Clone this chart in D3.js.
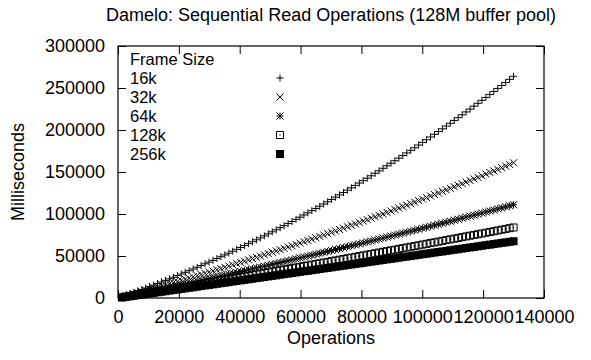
<!DOCTYPE html>
<html>
<head>
<meta charset="utf-8">
<script src="https://cdn.jsdelivr.net/npm/d3@7"></script>
<style>
  body { margin: 0; background: #fff; }
  svg text { font-family: Arial, "Liberation Sans", Helvetica, sans-serif; fill: #000; }
</style>
</head>
<body>
<svg id="chart" width="591" height="360"></svg>
<script>
// Data: operations (x) and milliseconds per frame size (y)
const ops = [
  1300,2600,3900,5200,6500,7800,9100,10400,11700,13000,
  14300,15600,16900,18200,19500,20800,22100,23400,24700,26000,
  27300,28600,29900,31200,32500,33800,35100,36400,37700,39000,
  40300,41600,42900,44200,45500,46800,48100,49400,50700,52000,
  53300,54600,55900,57200,58500,59800,61100,62400,63700,65000,
  66300,67600,68900,70200,71500,72800,74100,75400,76700,78000,
  79300,80600,81900,83200,84500,85800,87100,88400,89700,91000,
  92300,93600,94900,96200,97500,98800,100100,101400,102700,104000,
  105300,106600,107900,109200,110500,111800,113100,114400,115700,117000,
  118300,119600,120900,122200,123500,124800,126100,127400,128700,130000
];

const ms16k = [
  1600,3300,5000,6700,8400,10100,11900,13600,15400,17300,
  19100,21000,22800,24700,26700,28600,30600,32500,34500,36600,
  38600,40700,42700,44800,47000,49100,51300,53400,55700,57900,
  60100,62400,64700,67000,69300,71600,74000,76400,78800,81200,
  83700,86100,88600,91100,93700,96200,98800,101400,104000,106600,
  109200,111900,114600,117300,120000,122800,125600,128400,131200,134000,
  136900,139700,142600,145500,148500,151400,154400,157400,160400,163400,
  166500,169600,172700,175800,178900,182100,185200,188400,191700,194900,
  198200,201400,204700,208000,211400,214700,218100,221500,224900,228400,
  231800,235300,238800,242300,245900,249500,253000,256600,260300,263900
];

const ms32k = [
  1300,2500,3800,5100,6400,7700,9000,10300,11600,13000,
  14300,15600,17000,18300,19700,21100,22400,23800,25200,26600,
  28000,29400,30800,32300,33700,35100,36600,38000,39500,41000,
  42400,43900,45400,46900,48400,49900,51400,52900,54500,56000,
  57500,59100,60700,62200,63800,65400,67000,68500,70100,71800,
  73400,75000,76600,78200,79900,81500,83200,84900,86500,88200,
  89900,91600,93300,95000,96700,98400,100100,101900,103600,105400,
  107100,108900,110600,112400,114200,116000,117800,119600,121400,123200,
  125000,126900,128700,130500,132400,134200,136100,138000,139900,141800,
  143600,145500,147500,149400,151300,153200,155200,157100,159000,161000
];

const ms64k = [
  1000,2000,2900,3900,4900,5900,6900,7900,8900,9900,
  10900,11900,12900,13900,14900,15900,17000,18000,19000,20000,
  21100,22100,23100,24200,25200,26300,27300,28400,29400,30500,
  31500,32600,33600,34700,35800,36900,37900,39000,40100,41200,
  42200,43300,44400,45500,46600,47700,48800,49900,51000,52100,
  53200,54400,55500,56600,57700,58800,60000,61100,62200,63400,
  64500,65600,66800,67900,69100,70200,71400,72600,73700,74900,
  76000,77200,78400,79600,80700,81900,83100,84300,85500,86700,
  87800,89000,90200,91400,92600,93800,95100,96300,97500,98700,
  99900,101100,102400,103600,104800,106100,107300,108500,109800,111000
];

const ms128k = [
  800,1600,2300,3100,3900,4700,5500,6300,7100,7900,
  8700,9400,10200,11000,11800,12600,13400,14200,15000,15800,
  16600,17500,18300,19100,19900,20700,21500,22300,23100,23900,
  24800,25600,26400,27200,28000,28900,29700,30500,31300,32200,
  33000,33800,34600,35500,36300,37100,38000,38800,39700,40500,
  41300,42200,43000,43900,44700,45600,46400,47300,48100,49000,
  49800,50700,51500,52400,53200,54100,55000,55800,56700,57500,
  58400,59300,60100,61000,61900,62700,63600,64500,65400,66200,
  67100,68000,68900,69800,70600,71500,72400,73300,74200,75100,
  75900,76800,77700,78600,79500,80400,81300,82200,83100,84000
];

const ms256k = [
  700,1400,2000,2700,3400,4100,4700,5400,6100,6800,
  7400,8100,8800,9500,10100,10800,11500,12200,12800,13500,
  14200,14900,15500,16200,16900,17600,18300,18900,19600,20300,
  21000,21600,22300,23000,23700,24300,25000,25700,26400,27000,
  27700,28400,29100,29700,30400,31100,31800,32400,33100,33800,
  34500,35200,35800,36500,37200,37900,38500,39200,39900,40600,
  41200,41900,42600,43300,43900,44600,45300,46000,46600,47300,
  48000,48700,49300,50000,50700,51400,52100,52700,53400,54100,
  54800,55400,56100,56800,57500,58100,58800,59500,60200,60800,
  61500,62200,62900,63500,64200,64900,65600,66200,66900,67600
];

const frameSizes = ['16k', '32k', '64k', '128k', '256k'];
const markerTypes = ['plus', 'cross', 'star', 'box', 'fillbox'];
const seriesValues = [ms16k, ms32k, ms64k, ms128k, ms256k];

const xTicks = [0, 20000, 40000, 60000, 80000, 100000, 120000, 140000];
const yTicks = [0, 50000, 100000, 150000, 200000, 250000, 300000];

// Layout
const plotLeft = 118, plotRight = 544, plotTop = 46, plotBottom = 298;
const fontSize = '18px';
const legendFontSize = '16.5px';

const svg = d3.select('#chart');

const x = d3.scaleLinear().domain([0, 140000]).range([plotLeft, plotRight]);
const y = d3.scaleLinear().domain([0, 300000]).range([plotBottom, plotTop]);

// Build a path for a gnuplot-like point symbol
function markerPath(type, cx, cy) {
    const s = 3.5;
    const plus = `M${cx - s},${cy}H${cx + s}M${cx},${cy - s}V${cy + s}`;
    const cross = `M${cx - s},${cy - s}L${cx + s},${cy + s}M${cx - s},${cy + s}L${cx + s},${cy - s}`;
    if (type === 'plus') return plus;
    if (type === 'cross') return cross;
    if (type === 'star') return plus + cross;
    if (type === 'box') return `M${cx - s},${cy - s}H${cx + s}V${cy + s}H${cx - s}Z`;
    return '';
}

function drawMarker(g, type, cx, cy) {
    if (type === 'fillbox') {
        g.append('rect')
            .attr('x', cx - 4).attr('y', cy - 4)
            .attr('width', 8).attr('height', 8)
            .attr('fill', '#000');
    } else {
        g.append('path')
            .attr('d', markerPath(type, cx, cy))
            .attr('fill', 'none')
            .attr('stroke', '#000')
            .attr('stroke-width', 1);
        if (type === 'box') {
            g.append('rect')
                .attr('x', cx - 0.6).attr('y', cy - 0.6)
                .attr('width', 1.2).attr('height', 1.2)
                .attr('fill', '#000');
        }
    }
}

// Axes with inward ticks (mirrored on top and right)
svg.append('g')
    .attr('transform', `translate(0,${plotBottom})`)
    .call(d3.axisBottom(x).tickValues(xTicks).tickSizeInner(-8).tickSizeOuter(0).tickPadding(12).tickFormat(d3.format('d')));

svg.append('g')
    .attr('transform', `translate(0,${plotTop})`)
    .call(d3.axisTop(x).tickValues(xTicks).tickSizeInner(-8).tickSizeOuter(0).tickFormat(''));

svg.append('g')
    .attr('transform', `translate(${plotLeft},0)`)
    .call(d3.axisLeft(y).tickValues(yTicks).tickSizeInner(-8).tickSizeOuter(0).tickPadding(13).tickFormat(d3.format('d')));

svg.append('g')
    .attr('transform', `translate(${plotRight},0)`)
    .call(d3.axisRight(y).tickValues(yTicks).tickSizeInner(-8).tickSizeOuter(0).tickFormat(''));

svg.selectAll('.domain').remove();
svg.selectAll('.tick line').attr('stroke', '#000');
svg.selectAll('.tick text')
    .style('font-size', fontSize)
    .style('font-family', 'Arial, "Liberation Sans", Helvetica, sans-serif');

// Plot frame
svg.append('rect')
    .attr('x', plotLeft).attr('y', plotTop)
    .attr('width', plotRight - plotLeft).attr('height', plotBottom - plotTop)
    .attr('fill', 'none')
    .attr('stroke', '#000')
    .attr('stroke-width', 1.2);

// Data points
const points = svg.append('g');
seriesValues.forEach((vals, i) => {
    vals.forEach((v, j) => {
        drawMarker(points, markerTypes[i], x(ops[j]), y(v));
    });
});

// Legend
const legend = svg.append('g');
legend.append('text')
    .attr('x', 130).attr('y', 59)
    .attr('dy', '0.35em')
    .style('font-size', legendFontSize)
    .text('Frame Size');

frameSizes.forEach((label, i) => {
    const ly = 78 + i * 19;
    legend.append('text')
        .attr('x', 130).attr('y', ly)
        .attr('dy', '0.35em')
        .style('font-size', legendFontSize)
        .text(label);
    drawMarker(legend, markerTypes[i], 280, ly);
});

// Title and axis labels
svg.append('text')
    .attr('x', (plotLeft + plotRight) / 2).attr('y', 15)
    .attr('dy', '0.35em')
    .attr('text-anchor', 'middle')
    .style('font-size', fontSize)
    .text('Damelo: Sequential Read Operations (128M buffer pool)');

svg.append('text')
    .attr('x', (plotLeft + plotRight) / 2).attr('y', 338)
    .attr('dy', '0.35em')
    .attr('text-anchor', 'middle')
    .style('font-size', fontSize)
    .text('Operations');

svg.append('text')
    .attr('transform', `translate(18,${(plotTop + plotBottom) / 2}) rotate(-90)`)
    .attr('dy', '0.35em')
    .attr('text-anchor', 'middle')
    .style('font-size', fontSize)
    .text('Milliseconds');
</script>
</body>
</html>
